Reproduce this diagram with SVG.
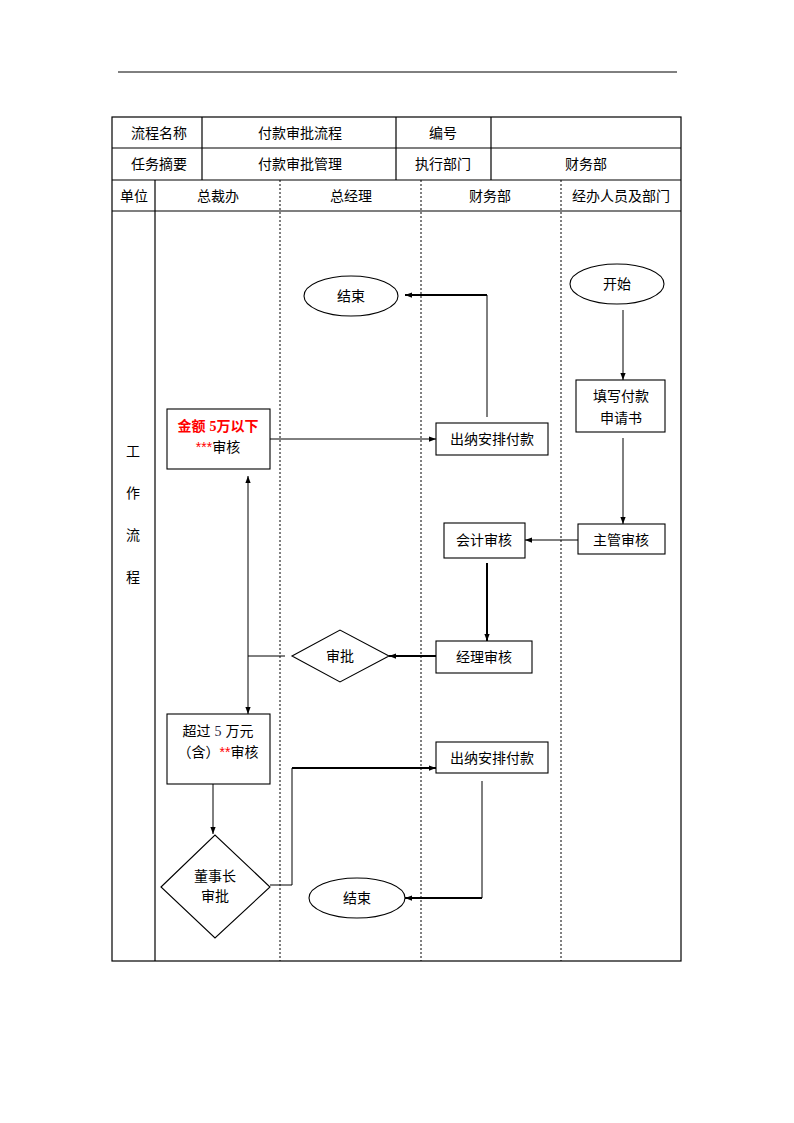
<svg xmlns="http://www.w3.org/2000/svg" width="794" height="1123" viewBox="0 0 794 1123">
<defs>
<style>
text{font-family:"Liberation Sans","Noto Sans CJK SC",sans-serif;font-size:14px;fill:#000;text-anchor:middle;dominant-baseline:central}
.serif{font-family:"Liberation Serif","Noto Sans CJK SC",serif}
.b{fill:none;stroke:#000;stroke-width:1.2}
.ln{fill:none;stroke:#000;stroke-width:1}
.th{fill:none;stroke:#000;stroke-width:2}
.dash{stroke:#000;stroke-width:1;stroke-dasharray:2,2}
.node{fill:#fff;stroke:#000;stroke-width:1.1}
.red{fill:#f00}
</style>
<marker id="a" viewBox="0 0 8 8" refX="8" refY="4" markerWidth="7" markerHeight="7" markerUnits="userSpaceOnUse" orient="auto-start-reverse">
<path d="M0,1 L8,4 L0,7 Z" fill="#000"/>
</marker>
</defs>
<rect width="794" height="1123" fill="#fff"/>
<g id="frame">
<line x1="118" y1="72" x2="677" y2="72" class="ln"/>
<rect x="112" y="117" width="569" height="844" class="b"/>
<line x1="112" y1="148" x2="681" y2="148" class="b"/>
<line x1="112" y1="180" x2="681" y2="180" class="b"/>
<line x1="112" y1="211" x2="681" y2="211" class="b"/>
<line x1="202" y1="117" x2="202" y2="180" class="b"/>
<line x1="396" y1="117" x2="396" y2="180" class="b"/>
<line x1="491" y1="117" x2="491" y2="180" class="b"/>
<line x1="155" y1="180" x2="155" y2="961" class="b"/>
<line x1="280" y1="180" x2="280" y2="961" class="dash"/>
<line x1="421" y1="180" x2="421" y2="961" class="dash"/>
<line x1="561" y1="180" x2="561" y2="961" class="dash"/>
<text x="159" y="133">流程名称</text>
<text x="300" y="133">付款审批流程</text>
<text x="443" y="133">编号</text>
<text x="159" y="164">任务摘要</text>
<text x="300" y="164">付款审批管理</text>
<text x="443" y="164">执行部门</text>
<text x="586" y="164">财务部</text>
<text x="134" y="196">单位</text>
<text x="218" y="196">总裁办</text>
<text x="351" y="196">总经理</text>
<text x="490" y="196">财务部</text>
<text x="621" y="196">经办人员及部门</text>
<text x="133" y="451">工</text>
<text x="133" y="493">作</text>
<text x="133" y="535">流</text>
<text x="133" y="577">程</text>
</g>
<g id="connectors">
<line x1="623" y1="310" x2="623" y2="380" class="ln" marker-end="url(#a)"/>
<line x1="623" y1="438" x2="623" y2="524" class="ln" marker-end="url(#a)"/>
<line x1="578" y1="540" x2="525" y2="540" class="ln" marker-end="url(#a)"/>
<line x1="487" y1="563" x2="487" y2="641" class="th" marker-end="url(#a)"/>
<line x1="436" y1="656" x2="389" y2="656" class="th" marker-end="url(#a)"/>
<line x1="285" y1="656" x2="248" y2="656" class="ln"/>
<line x1="248" y1="476" x2="248" y2="714" class="ln" marker-start="url(#a)" marker-end="url(#a)"/>
<line x1="270" y1="439" x2="436" y2="439" class="ln" marker-end="url(#a)"/>
<line x1="487" y1="417" x2="487" y2="295" class="ln"/>
<line x1="487" y1="295" x2="405" y2="295" class="th" marker-end="url(#a)"/>
<line x1="213" y1="784" x2="213" y2="834" class="ln" marker-end="url(#a)"/>
<polyline points="270,885 292,885 292,768" class="ln"/>
<line x1="292" y1="768" x2="436" y2="768" class="th" marker-end="url(#a)"/>
<line x1="482" y1="781" x2="482" y2="898" class="ln"/>
<line x1="482" y1="898" x2="405" y2="898" class="th" marker-end="url(#a)"/>
</g>
<g id="n-start">
<ellipse cx="617" cy="284" rx="47" ry="20" class="node"/>
<text x="617" y="284">开始</text>
</g>
<g id="n-fill">
<rect x="576" y="380" width="89" height="52" class="node"/>
<text x="621" y="396">填写付款</text>
<text x="621" y="418">申请书</text>
</g>
<g id="n-supervisor">
<rect x="578" y="524" width="87" height="30" class="node"/>
<text x="621" y="540">主管审核</text>
</g>
<g id="n-accounting">
<rect x="444" y="523" width="81" height="35" class="node"/>
<text x="484" y="540">会计审核</text>
</g>
<g id="n-cashier1">
<rect x="436" y="423" width="112" height="32" class="node"/>
<text x="492" y="439">出纳安排付款</text>
</g>
<g id="n-end1">
<ellipse cx="351" cy="296" rx="47" ry="20" class="node"/>
<text x="351" y="296">结束</text>
</g>
<g id="n-under5">
<rect x="167" y="409" width="103" height="60" class="node"/>
<text x="218" y="426" style="font-weight:bold" class="red">金额 <tspan class="serif">5</tspan>万以下</text>
<text x="218" y="447"><tspan class="red">***</tspan>审核</text>
</g>
<g id="n-approve">
<polygon points="292,656 340,630 389,656 340,682" class="node"/>
<text x="340" y="656">审批</text>
</g>
<g id="n-manager">
<rect x="436" y="641" width="96" height="32" class="node"/>
<text x="484" y="657">经理审核</text>
</g>
<g id="n-over5">
<rect x="167" y="714" width="103" height="70" class="node"/>
<text x="218" y="731">超过 <tspan class="serif" fill="#224">5</tspan> 万元</text>
<text x="218" y="752">（含）<tspan class="red">**</tspan>审核</text>
</g>
<g id="n-cashier2">
<rect x="436" y="742" width="112" height="31" class="node"/>
<text x="492" y="758">出纳安排付款</text>
</g>
<g id="n-chairman">
<polygon points="161,887 215,835 270,887 215,938" class="node"/>
<text x="215" y="876">董事长</text>
<text x="215" y="896">审批</text>
</g>
<g id="n-end2">
<ellipse cx="357" cy="898" rx="48" ry="20" class="node"/>
<text x="357" y="898">结束</text>
</g>
</svg>
